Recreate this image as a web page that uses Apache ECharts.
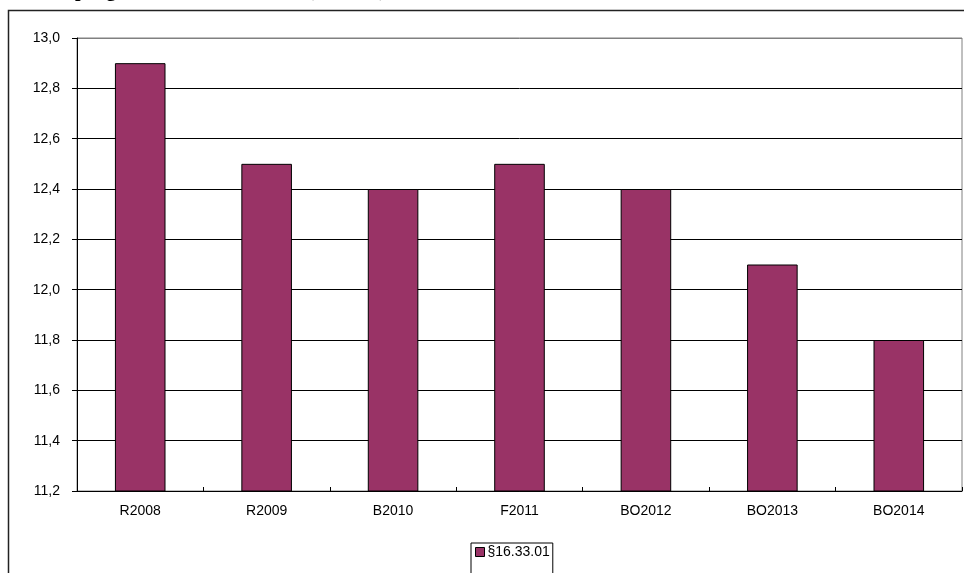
<!DOCTYPE html>
<html>
<head>
<meta charset="utf-8">
<script src="https://cdn.jsdelivr.net/npm/echarts@6/dist/echarts.min.js"></script>
<style>
html,body{margin:0;padding:0;background:#fff;}
#chart{width:964px;height:573px;}
</style>
</head>
<body>
<div id="chart"></div>
<script>
var categories = ['R2008', 'R2009', 'B2010', 'F2011', 'BO2012', 'BO2013', 'BO2014'];
var seriesName = '§16.33.01';
var values = [12.9, 12.5, 12.4, 12.5, 12.4, 12.1, 11.8];
var titleText = 'Afsatte penge til hele området i alt (mio. kr.), 2008-2014';

var chart = echarts.init(document.getElementById('chart'));
var splitColors = ['#000','#000','#000','#000','#000','#000','#000','#000','#000','#808080'];
chart.setOption({
  animation: false,
  backgroundColor: '#fff',
  graphic: [
    {
      type: 'rect', silent: true, z: 0,
      shape: { x: 8.5, y: 10.5, width: 1000, height: 1000 },
      style: { fill: 'none', stroke: '#222', lineWidth: 1.5 }
    },
    {
      type: 'text', silent: true,
      x: 9, y: 1,
      style: {
        text: titleText,
        font: 'bold 20px "Liberation Serif", "Times New Roman", serif',
        fill: '#000',
        verticalAlign: 'bottom'
      }
    }
  ],
  grid: {
    left: 77, right: 2, top: 38, bottom: 82,
    show: true, borderColor: '#808080', borderWidth: 1, backgroundColor: 'transparent'
  },
  legend: {
    data: [seriesName],
    left: 471, top: 543,
    orient: 'horizontal',
    backgroundColor: '#fff',
    borderColor: '#000', borderWidth: 1,
    padding: [2, 3, 30, 4],
    icon: 'rect',
    itemWidth: 9, itemHeight: 9, itemGap: 4,
    textStyle: { fontFamily: '"Liberation Sans", Arial, sans-serif', fontSize: 14, color: '#000', padding: [0, 0, 0, -2] },
    itemStyle: { borderColor: '#000', borderWidth: 1 }
  },
  xAxis: {
    type: 'category',
    data: categories,
    axisLine: { lineStyle: { color: '#000', width: 1 } },
    axisTick: { show: true, inside: true, length: 4, lineStyle: { color: '#000' } },
    axisLabel: { color: '#000', fontSize: 14, fontFamily: '"Liberation Sans", Arial, sans-serif', margin: 13 },
    splitLine: { show: false }
  },
  yAxis: {
    type: 'value',
    min: 11.2, max: 13.0, interval: 0.2,
    axisLine: { show: true, lineStyle: { color: '#000', width: 1 } },
    axisTick: { show: true, length: 5, lineStyle: { color: '#000' } },
    axisLabel: {
      color: '#000', fontSize: 14, fontFamily: '"Liberation Sans", Arial, sans-serif', margin: 17,
      formatter: function (v) { return v.toFixed(1).replace('.', ','); }
    },
    splitLine: { show: true, lineStyle: { color: splitColors, width: 1 } }
  },
  series: [{
    name: seriesName,
    type: 'bar',
    data: values,
    barWidth: '40%',
    itemStyle: { color: '#993366', borderColor: '#000', borderWidth: 1 }
  }]
});
</script>
</body>
</html>
